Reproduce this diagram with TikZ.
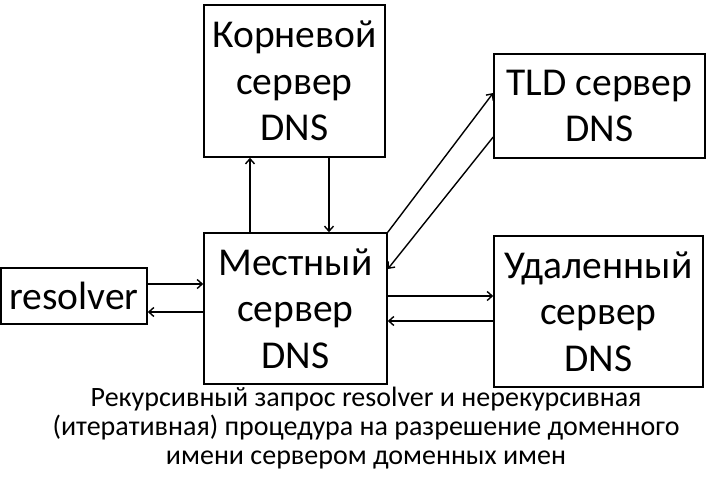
\documentclass[tikz,border=0pt]{standalone}
\usepackage{fontspec}
\setmainfont{Carlito}
\usepackage{tikz}
\usetikzlibrary{arrows.meta,positioning}

\begin{document}
\begin{tikzpicture}[
  x=1pt,y=-1pt,
  server/.style={draw, line width=1.6pt, align=center,
    font=\fontsize{39.5}{46.5}\selectfont, inner sep=0pt},
  link/.style={->, >={Straight Barb[length=5pt,width=9pt]}, line width=1.4pt}
]
\useasboundingbox (0,0) rectangle (716,482);
\node[server, minimum width=181pt, minimum height=152pt] (root) at (294.5,81) {Корневой\\сервер\\DNS};
\node[server, minimum width=211pt, minimum height=104pt] (tld) at (599.5,106) {TLD сервер\\DNS};
\node[server, minimum width=183pt, minimum height=151pt] (local) at (295.5,308.5) {Местный\\сервер\\DNS};
\node[server, minimum width=209pt, minimum height=151pt] (remote) at (598.5,311.5) {Удаленный\\сервер\\DNS};
\node[server, minimum width=146pt, minimum height=56pt] (resolver) at (74,296) {resolver};
\node[align=center, font=\fontsize{28}{29}\selectfont] (caption) at (366,428)
  {Рекурсивный запрос resolver и нерекурсивная\\(итеративная) процедура на разрешение доменного\\имени сервером доменных имен};

\draw[link] ([yshift=12pt]resolver.east) -- ([yshift=12pt]resolver.east -| local.west);
\draw[link] ([yshift=-16pt]resolver.east -| local.west) -- ([yshift=-16pt]resolver.east);
\draw[link] ([xshift=-45.5pt]local.north) -- ([xshift=-45.5pt]local.north |- root.south);
\draw[link] ([xshift=33.5pt]local.north |- root.south) -- ([xshift=33.5pt]local.north);
\draw[link] (local.north east) -- ([yshift=13pt]tld.west);
\draw[link] ([yshift=-31pt]tld.west) -- ([yshift=39.5pt]local.east);
\draw[link] ([yshift=12.5pt]local.east) -- ([yshift=12.5pt]local.east -| remote.west);
\draw[link] ([yshift=-12.5pt]local.east -| remote.west) -- ([yshift=-12.5pt]local.east);
\end{tikzpicture}
\end{document}
